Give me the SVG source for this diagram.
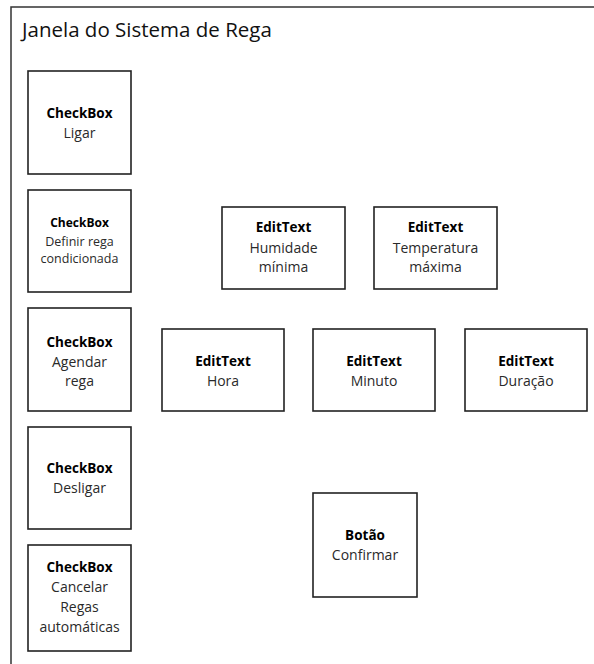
<svg xmlns="http://www.w3.org/2000/svg" width="594" height="664" viewBox="0 0 594 664">
  <style>
    .frame { fill: #ffffff; stroke: #333333; stroke-width: 1.5; }
    .box { fill: #ffffff; stroke: #222222; stroke-width: 1.6; }
    text { font-family: "Open Sans", "Noto Sans", "Liberation Sans", sans-serif; text-anchor: middle; fill: #2a2a2a; }
    .title { font-size: 20.5px; text-anchor: start; fill: #111111; }
    .kind { font-size: 13.5px; font-weight: bold; fill: #000000; }
    .lbl { font-size: 14px; }
    .kind.small { font-size: 12px; }
    .lbl.small { font-size: 12.5px; }
  </style>
  <rect width="594" height="664" fill="#ffffff"/>

  <!-- window frame -->
  <g id="window">
    <rect class="frame" x="11" y="7" width="600" height="680"/>
    <text class="title" x="22" y="37">Janela do Sistema de Rega</text>
  </g>

  <!-- left column: checkboxes -->
  <g id="cb-ligar">
    <rect class="box" x="28" y="71" width="103" height="103"/>
    <text class="kind" x="79.5" y="118">CheckBox</text>
    <text class="lbl" x="79.5" y="138">Ligar</text>
  </g>
  <g id="cb-definir">
    <rect class="box" x="28" y="190" width="103" height="102"/>
    <text class="kind small" x="79.5" y="227">CheckBox</text>
    <text class="lbl small" x="79.5" y="246">Definir rega</text>
    <text class="lbl small" x="79.5" y="263">condicionada</text>
  </g>
  <g id="cb-agendar">
    <rect class="box" x="28" y="308" width="103" height="103"/>
    <text class="kind" x="79.5" y="347">CheckBox</text>
    <text class="lbl" x="79.5" y="367">Agendar</text>
    <text class="lbl" x="79.5" y="386">rega</text>
  </g>
  <g id="cb-desligar">
    <rect class="box" x="28" y="427" width="103" height="102"/>
    <text class="kind" x="79.5" y="473">CheckBox</text>
    <text class="lbl" x="79.5" y="493">Desligar</text>
  </g>
  <g id="cb-cancelar">
    <rect class="box" x="28" y="545" width="103" height="106"/>
    <text class="kind" x="79.5" y="572">CheckBox</text>
    <text class="lbl" x="79.5" y="592">Cancelar</text>
    <text class="lbl" x="79.5" y="612">Regas</text>
    <text class="lbl" x="79.5" y="632">automáticas</text>
  </g>

  <!-- conditional watering fields -->
  <g id="et-humidade">
    <rect class="box" x="222" y="207" width="123" height="82"/>
    <text class="kind" x="283.5" y="232">EditText</text>
    <text class="lbl" x="283.5" y="253">Humidade</text>
    <text class="lbl" x="283.5" y="272">mínima</text>
  </g>
  <g id="et-temperatura">
    <rect class="box" x="374" y="207" width="123" height="82"/>
    <text class="kind" x="435.5" y="232">EditText</text>
    <text class="lbl" x="435.5" y="253">Temperatura</text>
    <text class="lbl" x="435.5" y="272">máxima</text>
  </g>

  <!-- schedule fields -->
  <g id="et-hora">
    <rect class="box" x="162" y="329" width="122" height="82"/>
    <text class="kind" x="223" y="366">EditText</text>
    <text class="lbl" x="223" y="386">Hora</text>
  </g>
  <g id="et-minuto">
    <rect class="box" x="313" y="329" width="122" height="82"/>
    <text class="kind" x="374" y="366">EditText</text>
    <text class="lbl" x="374" y="386">Minuto</text>
  </g>
  <g id="et-duracao">
    <rect class="box" x="465" y="329" width="122" height="82"/>
    <text class="kind" x="526" y="366">EditText</text>
    <text class="lbl" x="526" y="386">Duração</text>
  </g>

  <!-- confirm button -->
  <g id="btn-confirmar">
    <rect class="box" x="313" y="493" width="104" height="104"/>
    <text class="kind" x="365" y="540">Botão</text>
    <text class="lbl" x="365" y="560">Confirmar</text>
  </g>

  <g id="connectors"/>
</svg>
